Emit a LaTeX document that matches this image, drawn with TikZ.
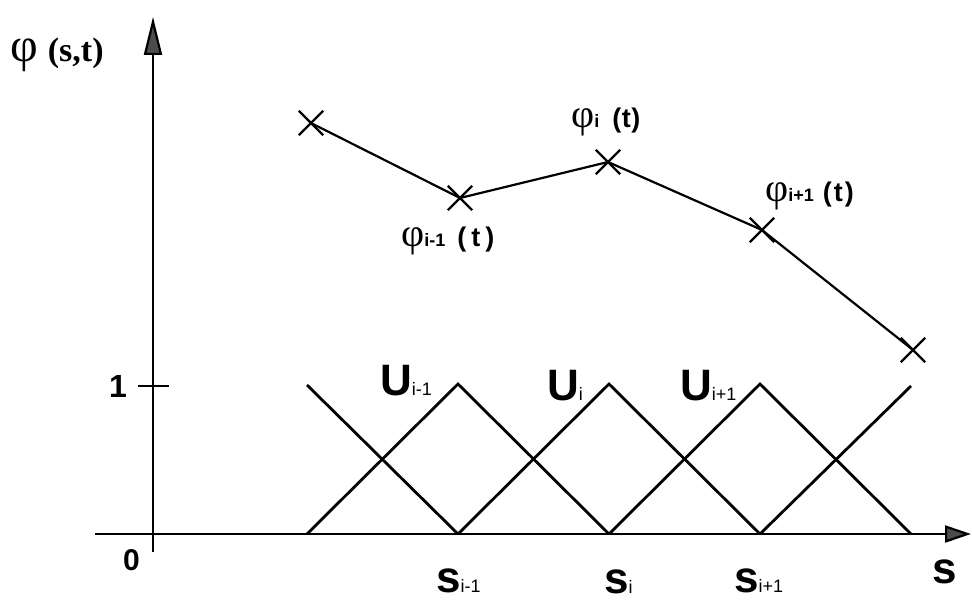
\documentclass[tikz,border=0pt]{standalone}
\usepackage{fontspec}
\setmainfont{Liberation Sans}
\newfontfamily\serifphi{Liberation Serif}
\usetikzlibrary{arrows.meta,shapes.misc}
\newcommand\ulab[2]{{\fontsize{44}{44}\selectfont\bfseries #1}{\fontsize{18}{18}\selectfont #2}}
\newcommand\phlab[3]{{\serifphi\fontsize{40}{40}\selectfont φ}{\fontsize{18}{18}\selectfont\bfseries #1}\hspace{#2}{\fontsize{27}{27}\selectfont\bfseries(\kern#3 t\kern#3)}}
\begin{document}
\begin{tikzpicture}[x=1pt,y=-1pt,
  axis/.style={line width=2.2pt, black},
  basis/.style={line width=2.8pt, line join=miter, black},
  poly/.style={line width=2.2pt, black},
  crossmk/.style={draw, cross out, minimum size=22pt, inner sep=0pt, line width=2.4pt},
  lab/.style={inner sep=0pt, anchor=base west}]
\useasboundingbox (0,0) rectangle (972,601);

% axes
\coordinate (ybot) at (153,552);
\coordinate (ytip) at (153,17);
\coordinate (xleft) at (95,534);
\coordinate (xtip) at (971,534);
\coordinate (tickL) at (138,386);
\coordinate (tickR) at (169,386);
\draw[axis, -{Triangle[length=38pt,width=18pt,fill=black!70]}] (ybot) -- (ytip);
\draw[axis, -{Triangle[length=26pt,width=17pt,fill=black!70]}] (xleft) -- (xtip);
\draw[axis] (tickL) -- (tickR);

% basis functions
\coordinate (b0) at (307,534);
\coordinate (b1) at (458,534);
\coordinate (b2) at (609,534);
\coordinate (b3) at (760,534);
\coordinate (b4) at (911,534);
\coordinate (p0) at (307,385);
\coordinate (p1) at (458,384);
\coordinate (p2) at (609,384);
\coordinate (p3) at (760,384);
\coordinate (p4) at (911,386);
\draw[basis] (b0) -- (p1) -- (b2);
\draw[basis] (b1) -- (p2) -- (b3);
\draw[basis] (b2) -- (p3) -- (b4);
\draw[basis] (p0) -- (b1);
\draw[basis] (b3) -- (p4);

% phi polyline
\node[crossmk] (c1) at (311,123) {};
\node[crossmk] (c2) at (460,198) {};
\node[crossmk] (c3) at (608,162) {};
\node[crossmk] (c4) at (762,230) {};
\node[crossmk] (c5) at (913,350) {};
\draw[poly] (c1.center) -- (c2.center) -- (c3.center) -- (c4.center) -- (c5.center);

% labels
\node[lab] (phist) at (10,62) {\serifphi{\fontsize{48}{48}\selectfont φ}\hspace{10pt}{\fontsize{34}{34}\selectfont\bfseries (s,t)}};
\node[lab] (one) at (109,398) {\fontsize{32}{32}\selectfont\bfseries 1};
\node[lab] (zero) at (123,570) {\fontsize{30}{30}\selectfont\bfseries 0};
\node[lab] (phim) at (401,247) {\phlab{i-1}{12pt}{5pt}};
\node[lab] (phii) at (571,128) {\phlab{i}{13pt}{0.5pt}};
\node[lab] (phip) at (765,202) {\phlab{i+1}{9pt}{2pt}};
\node[lab] (um) at (380,396) {\ulab{U}{i-1}};
\node[lab] (ui) at (547,401) {\ulab{U}{i}};
\node[lab] (up) at (680,401) {\ulab{U}{i+1}};
\node[lab] (sm) at (436,592) {\ulab{s}{i-1}};
\node[lab] (si) at (604,593) {\ulab{s}{i}};
\node[lab] (sp) at (734,592) {\ulab{s}{i+1}};
\node[lab] (sax) at (932,583) {\ulab{s}{}};
\end{tikzpicture}
\end{document}
